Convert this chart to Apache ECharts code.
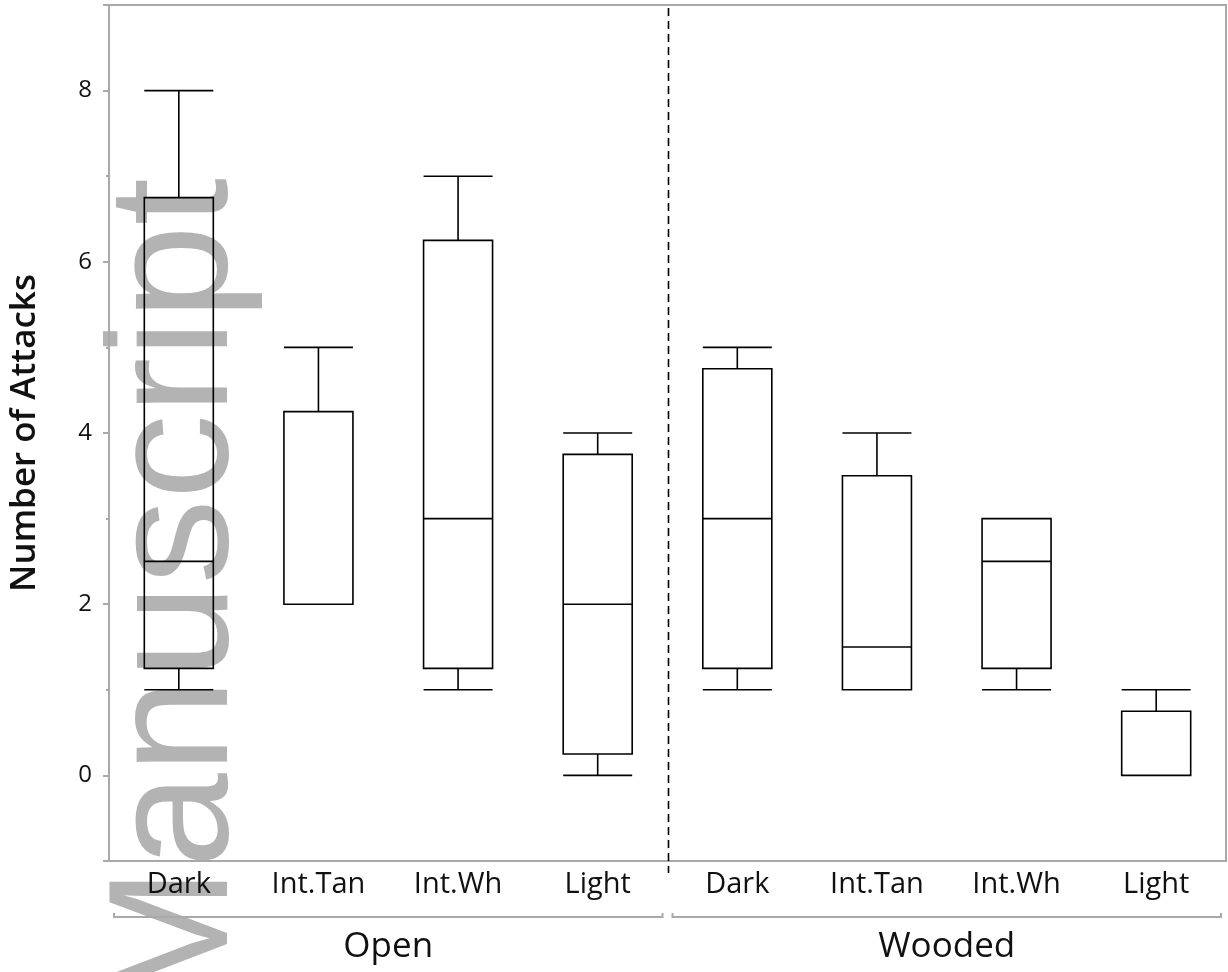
<!DOCTYPE html>
<html>
<head>
<meta charset="utf-8">
<script src="https://cdn.jsdelivr.net/npm/echarts@6/dist/echarts.min.js"></script>
<style>
html,body{margin:0;padding:0;background:#fff;}
#chart{width:1228px;height:972px;}
</style>
</head>
<body>
<div id="chart"></div>
<script>
// ---- data ----
const categories = ['Dark', 'Int.Tan', 'Int.Wh', 'Light', 'Dark', 'Int.Tan', 'Int.Wh', 'Light'];
const groups = ['Open', 'Wooded'];
const groupSize = 4;
// [min, Q1, median, Q3, max]
const openBoxes = [
  [1, 1.25, 2.5, 6.75, 8],
  [2, 2, 2, 4.25, 5],
  [1, 1.25, 3, 6.25, 7],
  [0, 0.25, 2, 3.75, 4]
];
const woodedBoxes = [
  [1, 1.25, 3, 4.75, 5],
  [1, 1, 1.5, 3.5, 4],
  [1, 1.25, 2.5, 3, 3],
  [0, 0, 0, 0.75, 1]
];
const yMajorTicks = [-1, 0, 2, 4, 6, 8, 9];
const yMinorTicks = [1, 3, 5, 7];
const yLabels = [0, 2, 4, 6, 8];
const yTitle = 'Number of Attacks';
const watermark = 'Manuscript';

const FONT = 'Open Sans';
const AXIS_GRAY = '#a9a9a9';

const chart = echarts.init(document.getElementById('chart'), null, {renderer: 'canvas'});

const boxData = openBoxes.concat(woodedBoxes);

const option = {
  animation: false,
  backgroundColor: '#ffffff',
  grid: {left: 109, right: 2, top: 5, bottom: 111, show: true, borderColor: AXIS_GRAY, borderWidth: 2, backgroundColor: 'transparent'},
  xAxis: {
    type: 'category',
    data: categories,
    boundaryGap: true,
    axisLine: {show: true, onZero: false, lineStyle: {color: AXIS_GRAY, width: 2}},
    axisTick: {show: false},
    axisLabel: {color: '#111', fontFamily: FONT, fontSize: 29, margin: 9, interval: 0},
    splitLine: {show: false}
  },
  yAxis: [{
    type: 'value',
    min: -1, max: 9, interval: 1,
    name: yTitle,
    nameLocation: 'middle',
    nameRotate: 90,
    nameGap: 66,
    nameTextStyle: {color: '#111', fontFamily: FONT, fontSize: 35, fontWeight: 600},
    axisLine: {show: true, lineStyle: {color: AXIS_GRAY, width: 2}},
    axisTick: {show: true, length: 6, customValues: yMajorTicks, lineStyle: {color: AXIS_GRAY, width: 2}},
    axisLabel: {show: true, customValues: yLabels, color: '#111', fontFamily: FONT, fontSize: 24, margin: 17},
    splitLine: {show: false}
  }, {
    type: 'value',
    min: -1, max: 9, interval: 1,
    position: 'left',
    axisLine: {show: false},
    axisTick: {show: true, length: 3, customValues: yMinorTicks, lineStyle: {color: AXIS_GRAY, width: 2}},
    axisLabel: {show: false},
    splitLine: {show: false}
  }],
  series: [{
    type: 'boxplot',
    yAxisIndex: 0,
    data: boxData,
    boxWidth: [69, 69],
    itemStyle: {color: 'rgba(0,0,0,0)', borderColor: '#000', borderWidth: 1.6},
    emphasis: {disabled: true},
    z: 5
  }]
};
chart.setOption(option);

// annotations derived from axis geometry
function px(i, v) { return chart.convertToPixel({xAxisIndex: 0, yAxisIndex: 0}, [i, v]); }
const c0 = px(0, 0)[0], c1 = px(1, 0)[0];
const band = c1 - c0;
const yTop = px(0, 9)[1];
const yBot = px(0, -1)[1];
const graphics = [];

// watermark
graphics.push({
  type: 'text', z: -10, silent: true,
  x: 180, y: 178, rotation: Math.PI / 2,
  style: {text: watermark, fill: '#b3b3b3', font: '170px "Liberation Sans"', textAlign: 'right', textVerticalAlign: 'middle'}
});

// group separator (dashed) and brackets with labels
groups.forEach((g, gi) => {
  const first = gi * groupSize, last = first + groupSize - 1;
  const left = px(first, 0)[0] - band / 2;
  const right = px(last, 0)[0] + band / 2;
  const by = yBot + 56;
  graphics.push({
    type: 'polyline', silent: true,
    shape: {points: [[left + 5, by - 4], [left + 5, by], [right - 5, by], [right - 5, by - 4]]},
    style: {stroke: AXIS_GRAY, lineWidth: 2, fill: null}
  });
  graphics.push({
    type: 'text', silent: true,
    x: (left + right) / 2, y: by + 30,
    style: {text: g, fill: '#111', font: '500 35px "' + FONT + '"', textAlign: 'center', textVerticalAlign: 'middle'}
  });
  if (gi > 0) {
    graphics.push({
      type: 'line', silent: true, z: 10,
      shape: {x1: left + 1, y1: yTop + 3, x2: left + 1, y2: yBot + 12},
      style: {stroke: '#000', lineWidth: 1.6, lineDash: [8, 5]}
    });
  }
});
chart.setOption({graphic: graphics});
</script>
</body>
</html>
